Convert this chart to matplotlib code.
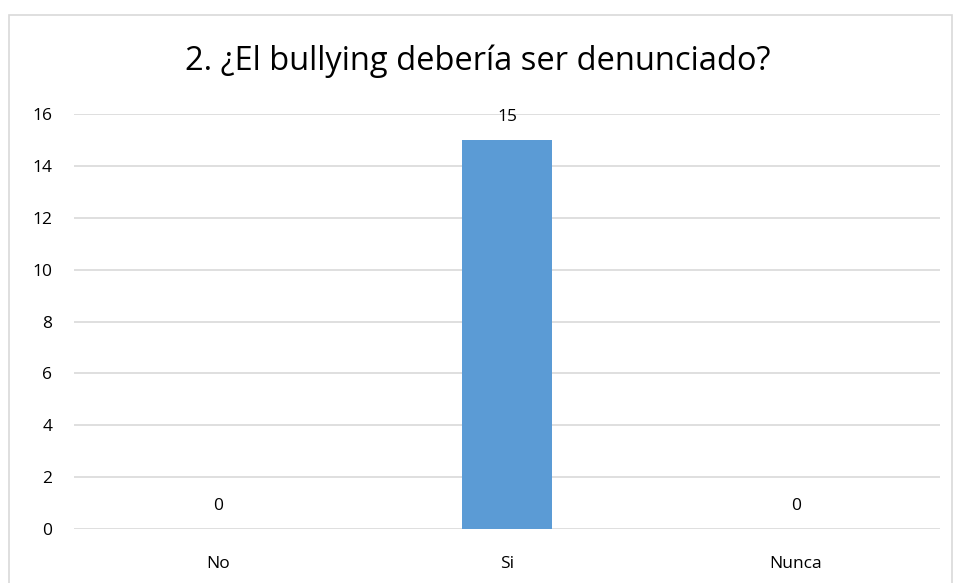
import matplotlib.pyplot as plt
from matplotlib.patches import Rectangle

categories = ["No", "Si", "Nunca"]
values = [0, 15, 0]
yticks = [0, 2, 4, 6, 8, 10, 12, 14, 16]
title = "2. ¿El bullying debería ser denunciado?"

plt.rcParams["font.family"] = ["Open Sans", "DejaVu Sans"]

fig = plt.figure(figsize=(9.55, 5.83), dpi=100)
ax = fig.add_axes([74 / 955, 1 - 529 / 583, 866 / 955, 415 / 583])

# chart border
fig.patches.append(Rectangle((9 / 955, -0.05), 943 / 955, 1.05 - 15 / 583,
                             transform=fig.transFigure, fill=False,
                             edgecolor="#D9D9D9", linewidth=1.2))

x = range(len(categories))
bars = ax.bar(x, values, width=0.315, color="#5B9BD5", zorder=3)
for xi, v in zip(x, values):
    ax.annotate(str(v), (xi, v), xytext=(0, 13.5), textcoords="offset points",
                ha="center", va="baseline", fontsize=12.5, color="#000000")

ax.set_xlim(-0.5, 2.5)
ax.set_ylim(0, 16)
ax.set_yticks(yticks)
ax.set_xticks(list(x))
ax.set_xticklabels(categories)
ax.tick_params(axis="both", length=0, labelsize=12.5, colors="#000000")
ax.tick_params(axis="x", pad=19.5)
ax.tick_params(axis="y", pad=15.5)
ax.grid(axis="y", color="#D9D9D9", linewidth=1.2, zorder=0)
for s in ax.spines.values():
    s.set_visible(False)

fig.text(0.5, 1 - 70 / 583, title, ha="center", va="baseline", fontsize=23.5)

fig.savefig("out.png", dpi=100)
